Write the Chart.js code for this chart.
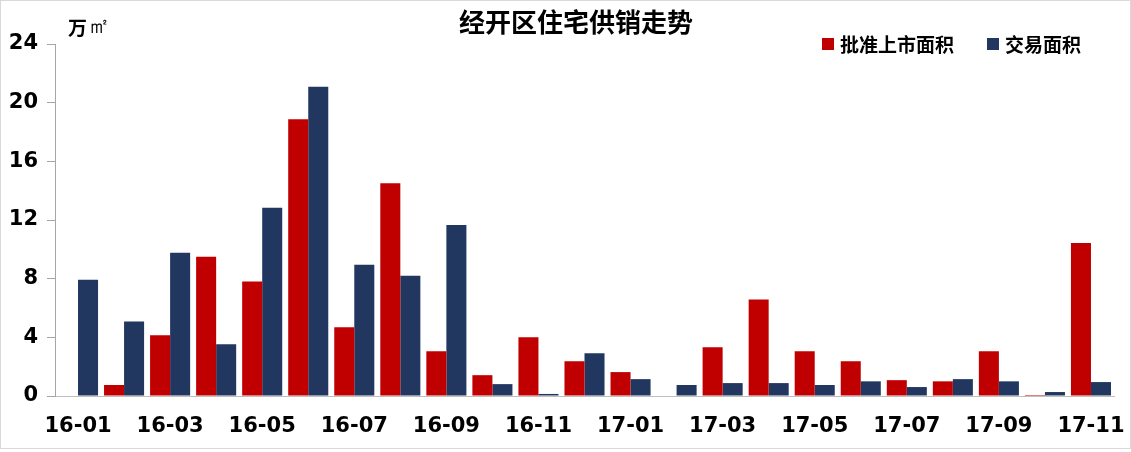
<!DOCTYPE html>
<html>
<head>
<meta charset="utf-8">
<script src="https://cdn.jsdelivr.net/npm/chart.js@4"></script>
<style>
  html, body { margin: 0; padding: 0; background: #fff; }
  #wrap { width: 1131px; height: 452px; position: relative; }
</style>
</head>
<body>
<div id="wrap"><canvas id="chart" width="1131" height="452"></canvas></div>
<script>
// 月份（万㎡）
const months = ['16-01','16-02','16-03','16-04','16-05','16-06','16-07','16-08','16-09','16-10','16-11','16-12',
                '17-01','17-02','17-03','17-04','17-05','17-06','17-07','17-08','17-09','17-10','17-11'];
// 批准上市面积
const approvedArea = [0, 0.75, 4.14, 9.49, 7.8, 18.87, 4.68, 14.5, 3.05, 1.42, 4.0, 2.37,
                      1.63, 0, 3.32, 6.58, 3.05, 2.37, 1.08, 1.0, 3.05, 0.07, 10.44];
// 交易面积
const tradedArea = [7.93, 5.08, 9.76, 3.53, 12.83, 21.08, 8.95, 8.2, 11.66, 0.81, 0.14, 2.92,
                    1.15, 0.75, 0.88, 0.88, 0.75, 1.0, 0.61, 1.15, 1.0, 0.27, 0.95];
const yTicks = [0, 4, 8, 12, 16, 20, 24];

const seriesNames = ['批准上市面积', '交易面积'];
const seriesColors = ['#C00000', '#21375F'];

const tickFont = { family: 'DejaVu Sans', size: 21, weight: 'bold' };
const cjkFont = '"Noto Sans CJK SC", sans-serif';

// 标题、单位、图例和外框直接画在画布上
const decorPlugin = {
    id: 'decor',
    beforeDraw(chart) {
        const ctx = chart.ctx;
        ctx.save();
        ctx.fillStyle = '#fff';
        ctx.fillRect(0, 0, chart.width, chart.height);
        ctx.strokeStyle = '#D9D9D9';
        ctx.lineWidth = 1;
        ctx.strokeRect(0.5, 0.5, chart.width - 1, chart.height - 4);
        ctx.restore();
    },
    afterDraw(chart) {
        const ctx = chart.ctx;
        ctx.save();
        ctx.fillStyle = '#000';
        ctx.textBaseline = 'middle';

        ctx.font = 'bold 26px ' + cjkFont;
        ctx.textAlign = 'center';
        ctx.fillText('经开区住宅供销走势', 576, 22);

        ctx.textAlign = 'left';
        ctx.font = 'bold 19px ' + cjkFont;
        ctx.fillText('万', 68, 28);
        ctx.font = '22px "DejaVu Serif", serif';
        ctx.fillText('㎡', 88, 27);

        const legendX = [822, 987];
        ctx.font = 'bold 19px ' + cjkFont;
        seriesNames.forEach((name, i) => {
            ctx.fillStyle = seriesColors[i];
            ctx.fillRect(legendX[i], 38, 12, 12);
            ctx.fillStyle = '#000';
            ctx.fillText(name, legendX[i] + 18, 45);
        });
        ctx.restore();
    }
};

const ctx = document.getElementById('chart').getContext('2d');
new Chart(ctx, {
    type: 'bar',
    data: {
        labels: months,
        datasets: [
            { label: seriesNames[0], data: approvedArea, backgroundColor: seriesColors[0],
              categoryPercentage: 0.87, barPercentage: 1.0, borderWidth: 0 },
            { label: seriesNames[1], data: tradedArea, backgroundColor: seriesColors[1],
              categoryPercentage: 0.87, barPercentage: 1.0, borderWidth: 0 }
        ]
    },
    options: {
        responsive: false,
        animation: false,
        layout: { padding: { top: 44, right: 17, bottom: 0, left: 0 } },
        plugins: {
            legend: { display: false },
            title: { display: false },
            tooltip: { enabled: false }
        },
        scales: {
            x: {
                grid: { display: false, tickLength: 0 },
                border: { display: true, color: '#BFBFBF', width: 1 },
                ticks: {
                    autoSkip: false,
                    maxRotation: 0,
                    minRotation: 0,
                    padding: 18,
                    color: '#000',
                    font: tickFont,
                    callback: (v, i) => (i % 2 === 0 ? months[i] : '')
                },
                afterFit(scale) {
                    scale.height = 56;
                    scale.paddingLeft = 0;
                    scale.paddingRight = 0;
                }
            },
            y: {
                min: 0,
                max: 24,
                afterBuildTicks(scale) { scale.ticks = yTicks.map(v => ({ value: v })); },
                grid: { drawOnChartArea: false, drawTicks: true, tickLength: 8, color: '#A6A6A6' },
                border: { display: true, color: '#A6A6A6', width: 1 },
                ticks: { padding: 9, color: '#000', font: tickFont },
                afterFit(scale) {
                    scale.width = 55;
                    scale.paddingTop = 0;
                    scale.paddingBottom = 0;
                }
            }
        }
    },
    plugins: [decorPlugin]
});
</script>
</body>
</html>
